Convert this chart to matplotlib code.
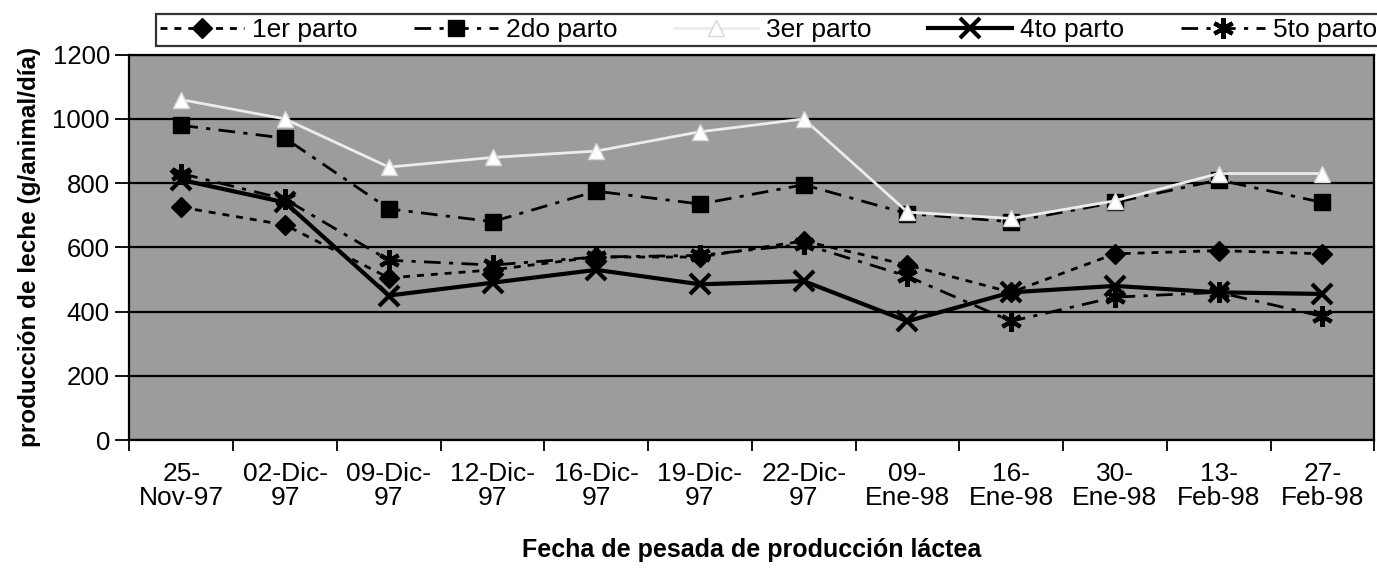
"""Producción de leche por número de parto, según fecha de pesada."""
import matplotlib

matplotlib.use("Agg")
import matplotlib.pyplot as plt

plt.rcParams["font.family"] = ["Liberation Sans", "DejaVu Sans"]

# Data
fechas = [
    "25-\nNov-97", "02-Dic-\n97", "09-Dic-\n97", "12-Dic-\n97",
    "16-Dic-\n97", "19-Dic-\n97", "22-Dic-\n97", "09-\nEne-98",
    "16-\nEne-98", "30-\nEne-98", "13-\nFeb-98", "27-\nFeb-98",
]
parto_1 = [725, 670, 505, 530, 570, 570, 620, 545, 460, 580, 590, 580]
parto_2 = [980, 940, 720, 680, 775, 735, 795, 705, 680, 740, 810, 740]
parto_3 = [1060, 1000, 850, 880, 900, 960, 1000, 710, 690, 745, 830, 830]
parto_4 = [810, 740, 450, 490, 530, 485, 495, 370, 460, 480, 460, 455]
parto_5 = [830, 750, 560, 545, 570, 575, 610, 510, 370, 445, 460, 385]
y_ticks = [0, 200, 400, 600, 800, 1000, 1200]

fig = plt.figure(figsize=(13.77, 5.70), dpi=100)
ax = fig.add_axes([0.094, 0.228, 0.904, 0.676])
ax.set_facecolor("#9c9c9c")

x = list(range(len(fechas)))

ax.plot(x, parto_1, color="black", lw=2, ls=(0, (2.5, 2.5)),
        marker="D", ms=10, mfc="black", mec="black", label="1er parto")
ax.plot(x, parto_2, color="black", lw=2, ls=(0, (6, 3, 1.5, 3)),
        marker="s", ms=11, mfc="black", mec="black", label="2do parto")
ax.plot(x, parto_3, color="#ececec", lw=2, ls="-",
        marker="^", ms=11, mfc="white", mec="#d8d8d8", label="3er parto")
ax.plot(x, parto_4, color="black", lw=3, ls="-",
        marker="x", ms=14, mew=3, label="4to parto")
ax.plot(x, parto_5, color="black", lw=2, ls=(0, (6, 3, 1.5, 3)),
        marker=(6, 2, 0), ms=15, mew=3, mec="black", label="5to parto")

# axes, grid and ticks
ax.set_ylim(0, 1200)
ax.set_yticks(y_ticks)
ax.yaxis.grid(True, color="black", lw=1.6)
ax.set_axisbelow(True)
ax.tick_params(axis="y", labelsize=18.5, length=10, width=1.3, direction="out", pad=4)

ax.set_xlim(-0.5, len(fechas) - 0.5)
ax.set_xticks(x)
ax.set_xticklabels(fechas, fontsize=19, linespacing=1.0)
ax.set_xticks([i - 0.5 for i in range(len(fechas) + 1)], minor=True)
ax.tick_params(axis="x", which="major", length=0, pad=16)
ax.tick_params(axis="x", which="minor", length=8, width=1.3, direction="out")

for spine in ax.spines.values():
    spine.set_color("black")
    spine.set_linewidth(1.6)

ax.set_ylabel("producción de leche (g/animal/día)", fontsize=17.5,
              fontweight="bold", labelpad=8)
ax.set_xlabel("Fecha de pesada de producción láctea", fontsize=18,
              fontweight="bold", labelpad=20)

leg = fig.legend(loc="center", bbox_to_anchor=(0.113, 0.915, 0.89, 0.065),
                 mode="expand", ncol=5, fontsize=19, frameon=True,
                 fancybox=False, edgecolor="black", handlelength=3.2,
                 handletextpad=0.3, borderaxespad=0, borderpad=0.15,
                 columnspacing=0.8)
leg.get_frame().set_linewidth(1.6)
leg.get_frame().set_facecolor("white")

fig.savefig("out.png", dpi=100)
